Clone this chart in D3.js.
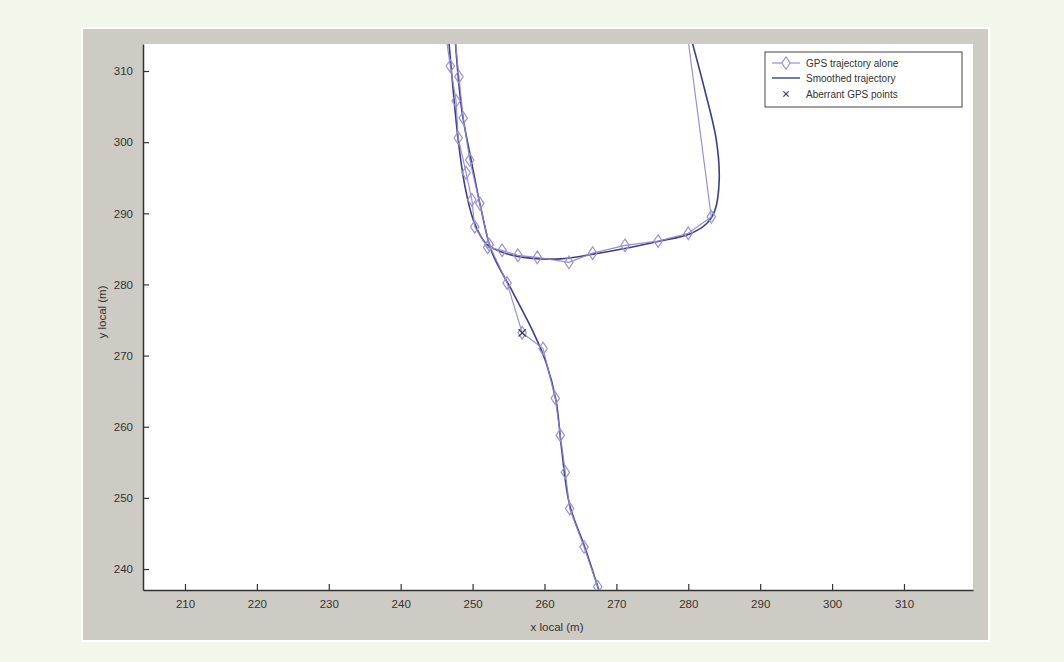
<!DOCTYPE html>
<html>
<head>
<meta charset="utf-8">
<script src="https://cdn.jsdelivr.net/npm/d3@7"></script>
<style>
  html, body { margin: 0; padding: 0; background: #f3f6ea; }
  svg { display: block; }
  text { font-family: "Liberation Sans", Arial, sans-serif; }
</style>
</head>
<body>
<svg id="chart" width="1064" height="662"></svg>
<script>
// ---- data (metres, local frame) ----
const xTicks = [210, 220, 230, 240, 250, 260, 270, 280, 290, 300, 310];
const yTicks = [240, 250, 260, 270, 280, 290, 300, 310];

// raw GPS trajectory, pass heading north from the bottom
const gpsPassA = [
  [267.6, 236.6], [267.4, 237.5], [265.5, 243.1], [263.5, 248.5], [262.9, 253.6],
  [262.2, 258.8], [261.5, 264.0], [259.8, 271.0], [256.9, 273.2], [254.8, 280.2],
  [252.3, 285.6], [251.0, 291.4], [249.6, 297.5], [248.7, 303.4], [248.1, 309.2],
  [247.6, 314.2]
];
// raw GPS trajectory, pass coming south, turning east then north
const gpsPassB = [
  [246.4, 314.2], [246.9, 310.7], [247.7, 305.8], [248.0, 300.6], [249.1, 295.7],
  [249.9, 291.9], [250.3, 288.1], [252.1, 285.2], [254.1, 284.8], [256.3, 284.1],
  [259.0, 283.8], [263.4, 283.1], [266.7, 284.4], [271.2, 285.5], [275.8, 286.1],
  [280.0, 287.2], [283.2, 289.5], [280.0, 314.2]
];
// indices of points that carry no marker (line ends outside the frame)
const gpsPassAMarkerless = [0, 15];
const gpsPassBMarkerless = [0, 17];

// smoothed trajectory
const smoothPassA = [
  [267.7, 236.6], [265.6, 243.1], [263.5, 249.0], [262.4, 256.7], [261.6, 263.7],
  [260.2, 269.1], [258.4, 273.4], [255.6, 278.9], [252.7, 284.5], [251.2, 290.5],
  [249.8, 297.5], [248.5, 304.5], [247.6, 314.2]
];
const smoothPassB = [
  [246.7, 314.2], [247.3, 307.3], [248.0, 300.3], [248.9, 294.0], [250.2, 288.8],
  [251.9, 285.7], [254.5, 284.4], [258.0, 283.7], [262.2, 283.6], [267.0, 284.3],
  [271.9, 285.2], [276.1, 286.1], [280.2, 287.1], [282.6, 288.6], [283.7, 290.4],
  [284.3, 294.7], [283.9, 300.3], [282.3, 307.3], [280.5, 314.2]
];

// aberrant GPS fixes
const aberrantPoints = [[256.9, 273.2]];

const legendLabels = ["GPS trajectory alone", "Smoothed trajectory", "Aberrant GPS points"];

// ---- layout ----
const svg = d3.select("#chart");
const plot = { left: 143, right: 973, top: 44, bottom: 590 };

const COL_GPS = "#8a86d0";
const COL_MARK = "#9894d0";
const COL_SMOOTH = "#3d3f86";
const COL_AXIS = "#333333";

// outer panel
svg.append("rect").attr("x", 81).attr("y", 27).attr("width", 909).attr("height", 615).attr("fill", "#ffffff");
svg.append("rect").attr("x", 83).attr("y", 29).attr("width", 905).attr("height", 611).attr("fill", "#cecbc4");
svg.append("rect").attr("x", plot.left).attr("y", plot.top)
  .attr("width", plot.right - plot.left).attr("height", plot.bottom - plot.top).attr("fill", "#ffffff");

const x = d3.scaleLinear().domain([204.16, 319.6]).range([plot.left, plot.right]);
const y = d3.scaleLinear().domain([237.05, 313.8]).range([plot.bottom, plot.top]);

svg.append("defs").append("clipPath").attr("id", "clip")
  .append("rect").attr("x", plot.left).attr("y", plot.top)
  .attr("width", plot.right - plot.left).attr("height", plot.bottom - plot.top);

// axes (ticks pointing inward)
const xAxis = d3.axisBottom(x).tickValues(xTicks).tickSizeInner(-6).tickSizeOuter(0).tickPadding(10);
const yAxis = d3.axisLeft(y).tickValues(yTicks).tickSizeInner(-6).tickSizeOuter(0).tickPadding(10);

const gx = svg.append("g").attr("transform", `translate(0,${plot.bottom})`).call(xAxis);
const gy = svg.append("g").attr("transform", `translate(${plot.left},0)`).call(yAxis);
[gx, gy].forEach(g => {
  g.select(".domain").attr("stroke", COL_AXIS).attr("stroke-width", 1.5);
  g.selectAll(".tick line").attr("stroke", COL_AXIS).attr("stroke-width", 1.2);
  g.selectAll(".tick text").attr("fill", "#333").attr("font-size", 11.5);
});

svg.append("text").attr("x", (plot.left + plot.right) / 2 - 1).attr("y", 631)
  .attr("text-anchor", "middle").attr("font-size", 11.5).attr("fill", "#333").text("x local (m)");
svg.append("text").attr("transform", `translate(106,312) rotate(-90)`)
  .attr("text-anchor", "middle").attr("font-size", 11.5).attr("fill", "#333").text("y local (m)");

// data layer
const layer = svg.append("g").attr("clip-path", "url(#clip)");
const lineLin = d3.line().x(d => x(d[0])).y(d => y(d[1]));
const lineSmooth = d3.line().x(d => x(d[0])).y(d => y(d[1])).curve(d3.curveCatmullRom.alpha(0.5));

[smoothPassA, smoothPassB].forEach(p => {
  layer.append("path").attr("d", lineSmooth(p)).attr("fill", "none")
    .attr("stroke", COL_SMOOTH).attr("stroke-width", 1.6);
});
[gpsPassA, gpsPassB].forEach(p => {
  layer.append("path").attr("d", lineLin(p)).attr("fill", "none")
    .attr("stroke", COL_GPS).attr("stroke-width", 1.2).attr("opacity", 0.9);
});

const diamond = d3.symbol().type(d3.symbolDiamond).size(46);
function drawMarkers(pts, skip) {
  layer.append("g").selectAll("path")
    .data(pts.filter((d, i) => !skip.includes(i)))
    .join("path")
    .attr("transform", d => `translate(${x(d[0])},${y(d[1])}) scale(1.15,1)`)
    .attr("d", diamond)
    .attr("fill", "none").attr("stroke", COL_MARK).attr("stroke-width", 1.1);
}
drawMarkers(gpsPassA, gpsPassAMarkerless);
drawMarkers(gpsPassB, gpsPassBMarkerless);

const cross = d3.symbol().type(d3.symbolX).size(36);
layer.append("g").selectAll("path").data(aberrantPoints).join("path")
  .attr("transform", d => `translate(${x(d[0])},${y(d[1])})`)
  .attr("d", cross).attr("fill", "none").attr("stroke", "#3a3a5a").attr("stroke-width", 1.2);

// legend
const lg = svg.append("g");
lg.append("rect").attr("x", 765).attr("y", 52).attr("width", 197).attr("height", 55)
  .attr("fill", "#ffffff").attr("stroke", "#444").attr("stroke-width", 1);
const rowsY = [63, 78, 94];
legendLabels.forEach((t, i) => {
  lg.append("text").attr("x", 806).attr("y", rowsY[i] + 4).attr("font-size", 10).attr("fill", "#333").text(t);
});
lg.append("line").attr("x1", 772).attr("x2", 800).attr("y1", rowsY[0]).attr("y2", rowsY[0])
  .attr("stroke", COL_GPS).attr("stroke-width", 1.1);
lg.append("path").attr("transform", `translate(786,${rowsY[0]}) scale(1.15,1)`).attr("d", diamond)
  .attr("fill", "#fff").attr("stroke", COL_MARK);
lg.append("line").attr("x1", 772).attr("x2", 800).attr("y1", rowsY[1]).attr("y2", rowsY[1])
  .attr("stroke", COL_SMOOTH).attr("stroke-width", 1.4);
lg.append("path").attr("transform", `translate(786,${rowsY[2]})`).attr("d", d3.symbol().type(d3.symbolX).size(20))
  .attr("fill", "none").attr("stroke", "#3a3a5a").attr("stroke-width", 1.1);
</script>
</body>
</html>
